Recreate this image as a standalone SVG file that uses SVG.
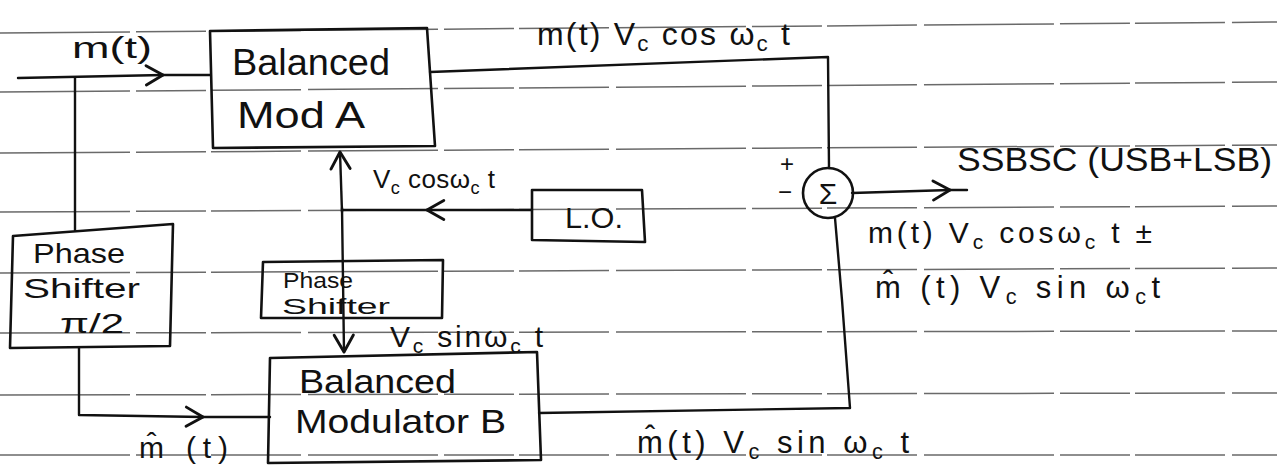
<svg xmlns="http://www.w3.org/2000/svg" width="1277" height="469" viewBox="0 0 1277 469">
<defs>
<style>
.rule{stroke:#6a6a6a;stroke-width:1.5;stroke-dasharray:130 6 70 5 90 7;fill:none}
.box{fill:none;stroke:#111;stroke-width:2.6;stroke-linejoin:round}
.ln{fill:none;stroke:#111;stroke-width:2.4;stroke-linejoin:round;stroke-linecap:round}
.t{font-family:"Liberation Sans",Arial,sans-serif;fill:#111}
.s{font-size:70%}
</style>
<marker id="chev" markerUnits="userSpaceOnUse" markerWidth="24" markerHeight="24" viewBox="-16 -10 20 20" refX="0" refY="0" orient="auto">
<path d="M-14,-8 L0,0 L-14,8" fill="none" stroke="#111" stroke-width="2.4" stroke-linecap="round" stroke-linejoin="round"/>
</marker>
</defs>
<rect width="1277" height="469" fill="#fff"/>
<g id="paper">
<line class="rule" x1="0" y1="33" x2="1277" y2="22"/>
<line class="rule" x1="0" y1="92" x2="1277" y2="82"/>
<line class="rule" x1="0" y1="153" x2="1277" y2="145"/>
<line class="rule" x1="0" y1="212" x2="1277" y2="206"/>
<line class="rule" x1="0" y1="273" x2="1277" y2="268"/>
<line class="rule" x1="0" y1="333" x2="1277" y2="331"/>
<line class="rule" x1="0" y1="395" x2="1277" y2="393"/>
<line class="rule" x1="0" y1="455" x2="1277" y2="455"/>
</g>
<g id="connectors">
<path class="ln" d="M18,78 L163,75" marker-end="url(#chev)"/>
<path class="ln" d="M163,75 L210,75"/>
<path class="ln" d="M75,78 L75,230"/>
<path class="ln" d="M430,72 L828,57 L829,168"/>
<path class="ln" d="M532,210 L427,210" marker-end="url(#chev)"/>
<path class="ln" d="M427,210 L342,210"/>
<path class="ln" d="M342,212 L340,152" marker-end="url(#chev)"/>
<path class="ln" d="M342,208 L344,352" marker-end="url(#chev)"/>
<path class="ln" d="M852,193 L950,190" marker-end="url(#chev)"/>
<path class="ln" d="M950,190 L967,190"/>
<path class="ln" d="M79,348 L79,415 L203,417" marker-end="url(#chev)"/>
<path class="ln" d="M203,417 L270,417"/>
<path class="ln" d="M539,413 L850,408 L842,300 L835,218"/>
<text class="t" x="72" y="58" font-size="30" textLength="80" lengthAdjust="spacingAndGlyphs">m(t)</text>
<text class="t" x="537" y="45" font-size="32" textLength="253" lengthAdjust="spacing">m(t) V<tspan class="s" dy="6">c</tspan><tspan dy="-6"> cos ω</tspan><tspan class="s" dy="6">c</tspan><tspan dy="-6"> t</tspan></text>
<text class="t" x="373" y="188" font-size="26" textLength="122" lengthAdjust="spacing">V<tspan class="s" dy="6">c</tspan><tspan dy="-6"> cosω</tspan><tspan class="s" dy="6">c</tspan><tspan dy="-6"> t</tspan></text>
<text class="t" x="390" y="347" font-size="30" textLength="153" lengthAdjust="spacing">V<tspan class="s" dy="6">c</tspan><tspan dy="-6"> sinω</tspan><tspan class="s" dy="6">c</tspan><tspan dy="-6"> t</tspan></text>
<text class="t" x="957" y="171" font-size="34" textLength="315" lengthAdjust="spacingAndGlyphs">SSBSC (USB+LSB)</text>
<text class="t" x="868" y="243" font-size="30" textLength="284" lengthAdjust="spacing">m(t) V<tspan class="s" dy="6">c</tspan><tspan dy="-6"> cosω</tspan><tspan class="s" dy="6">c</tspan><tspan dy="-6"> t ±</tspan></text>
<text class="t" x="875" y="298" font-size="31" textLength="285" lengthAdjust="spacing">m̂ (t) V<tspan class="s" dy="6">c</tspan><tspan dy="-6"> sin ω</tspan><tspan class="s" dy="6">c</tspan><tspan dy="-6">t</tspan></text>
<text class="t" x="139" y="458" font-size="30" textLength="89" lengthAdjust="spacing">m̂ (t)</text>
<text class="t" x="637" y="453" font-size="31" textLength="272" lengthAdjust="spacing">m̂(t) V<tspan class="s" dy="6">c</tspan><tspan dy="-6"> sin ω</tspan><tspan class="s" dy="6">c</tspan><tspan dy="-6"> t</tspan></text>
</g>
<g id="modA">
<polygon class="box" points="210,31 427,28 435,146 213,148"/>
<text class="t" x="232" y="75" font-size="36" textLength="158" lengthAdjust="spacingAndGlyphs">Balanced</text>
<text class="t" x="237" y="128" font-size="36" textLength="128" lengthAdjust="spacingAndGlyphs">Mod  A</text>
</g>
<g id="lo">
<polygon class="box" points="532,190 642,190 645,242 532,240"/>
<text class="t" x="565" y="228" font-size="30" textLength="58" lengthAdjust="spacingAndGlyphs">L.O.</text>
</g>
<g id="sum">
<circle class="box" cx="828" cy="193" r="25"/>
<text class="t" x="828" y="204" font-size="30" text-anchor="middle">Σ</text>
<text class="t" x="780" y="172" font-size="24">+</text>
<text class="t" x="778" y="200" font-size="24">−</text>
</g>
<g id="phaseShifterPi2">
<polygon class="box" points="13,236 173,224 170,346 10,348"/>
<text class="t" x="33" y="263" font-size="28" textLength="92" lengthAdjust="spacingAndGlyphs">Phase</text>
<text class="t" x="23" y="298" font-size="28" textLength="117" lengthAdjust="spacingAndGlyphs">Shifter</text>
<text class="t" x="60" y="333" font-size="28" textLength="64" lengthAdjust="spacingAndGlyphs">π/2</text>
</g>
<g id="phaseShifterSmall">
<polygon class="box" points="263,262 443,260 442,318 261,318"/>
<text class="t" x="283" y="288" font-size="22" textLength="70" lengthAdjust="spacingAndGlyphs">Phase</text>
<text class="t" x="282" y="314" font-size="22" textLength="108" lengthAdjust="spacingAndGlyphs">Shifter</text>
</g>
<g id="modB">
<polygon class="box" points="270,358 537,352 541,460 268,463"/>
<text class="t" x="299" y="393" font-size="34" textLength="157" lengthAdjust="spacingAndGlyphs">Balanced</text>
<text class="t" x="295" y="433" font-size="34" textLength="211" lengthAdjust="spacingAndGlyphs">Modulator B</text>
</g>
</svg>
